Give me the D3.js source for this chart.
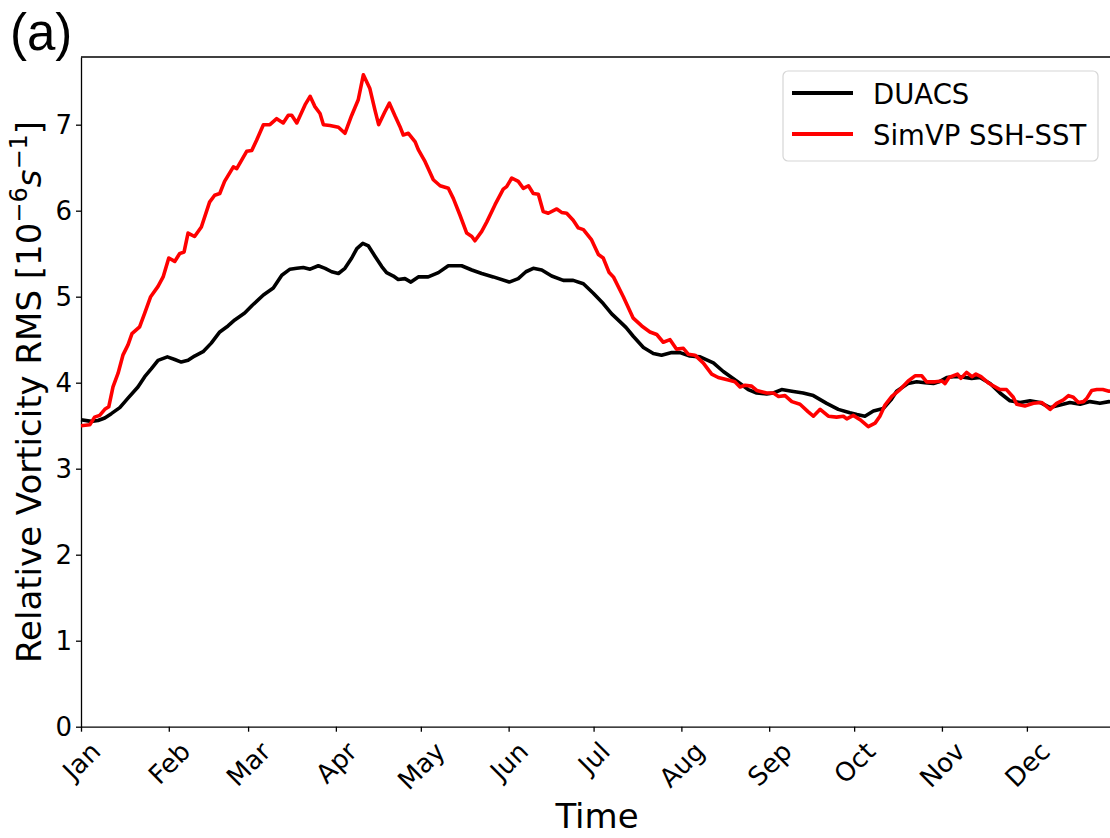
<!DOCTYPE html>
<html><head><meta charset="utf-8">
<script src="https://cdn.jsdelivr.net/npm/d3@7"></script>
<style>body{margin:0;background:#fff}svg{display:block}text{font-family:"DejaVu Sans",sans-serif;fill:#000}</style>
</head><body>
<svg id="c" width="1110" height="838"></svg>
<script>
const monthTickDays = [0,31,59,90,120,151,181,212,243,273,304,334];
const monthLabels = ["Jan","Feb","Mar","Apr","May","Jun","Jul","Aug","Sep","Oct","Nov","Dec"];
const yTicks = [0,1,2,3,4,5,6,7];
const seriesNames = ["DUACS","SimVP SSH-SST"];
const seriesColors = ["#000000","#ff0000"];

const duacsDays = [0,3.6,6,8.4,10.7,13.7,16.6,20.1,22.5,24.8,27.2,30.5,33.1,35.4,37.8,40.1,43.1,46,49,51.9,54.3,57.8,60.5,64.4,67.9,70.9,73.8,76.2,78.5,80.9,83.8,86.2,88.5,90.9,93.2,95.6,97.4,99.5,101.5,103.8,106.2,107.9,110.3,112,114.4,116.5,119.1,122.6,126.2,129.7,134.4,138,141.5,145.6,151.2,154.4,157.1,159.7,162.7,166.2,170.3,173.8,177.4,180.9,184.4,187.4,190.3,192.5,195,198.6,202.1,205,208.6,211.5,215,218.6,223.3,226.8,231.5,235.6,238.6,242.1,244.5,247.4,251,255,258.6,263.3,267.4,271.5,274,276.8,279.8,283.3,286,288,292,295.1,298,301,303,305.7,308,310.4,314.5,317.4,321,324.5,328,331.6,335.1,338.6,342.2,345.7,349.2,352.8,356.3,359.8,363,365];
const duacsVals = [3.57,3.55,3.56,3.59,3.64,3.71,3.82,3.95,4.07,4.16,4.26,4.30,4.27,4.24,4.26,4.31,4.36,4.46,4.59,4.66,4.73,4.81,4.90,5.02,5.10,5.25,5.32,5.33,5.34,5.32,5.36,5.33,5.29,5.27,5.33,5.45,5.56,5.62,5.59,5.47,5.35,5.28,5.24,5.20,5.21,5.17,5.23,5.23,5.28,5.36,5.36,5.31,5.27,5.23,5.17,5.21,5.29,5.33,5.31,5.24,5.19,5.19,5.15,5.04,4.92,4.80,4.71,4.64,4.54,4.41,4.34,4.32,4.35,4.35,4.31,4.30,4.23,4.13,4.02,3.92,3.88,3.87,3.88,3.92,3.90,3.88,3.85,3.76,3.69,3.65,3.63,3.61,3.67,3.70,3.80,3.90,3.99,4.01,4.00,3.99,4.01,4.06,4.07,4.07,4.05,4.06,3.99,3.88,3.79,3.77,3.79,3.77,3.71,3.74,3.77,3.75,3.78,3.76,3.78,3.77];

const simvpDays = [0,3.1,4.8,6.6,8.4,9.8,11.3,13.1,14.8,16.6,18,20.7,22.5,24.6,27.2,29,31,33.1,34.8,36.4,37.8,40.1,42.5,45.4,47.2,49,50.7,53.8,55,58.5,60.3,62,64.4,66.7,69.1,71.4,73.2,74.4,76.2,79.1,80.9,82.6,84.4,85.6,87.9,90.9,93.2,95.6,97.9,99.7,102,103.8,105.1,107.3,108.9,110.9,112.6,113.8,115.6,118,119.1,121.5,122.6,124.4,126.8,129.7,131.5,133.8,136.2,138,139.1,141.5,143.3,146.2,149.1,150.3,152.1,154.4,156.2,158,159.7,161.5,163.2,165,168,169.7,171.5,173.8,175.6,177.4,180.3,182.7,184.4,186.5,188,191.5,195,198,200.9,203.3,205.6,208,210.3,212.7,214.5,216.8,219.7,222.7,225,228.6,230.9,232.7,234.5,236.8,238.6,242.1,244.5,246.3,248.6,251,253.9,256.8,258.6,261,263.9,266.8,269.2,270.4,272.7,275.1,278,280.4,282.1,283.9,286.3,289.2,292.1,294.5,296.9,298.6,301.6,304,305.1,306.5,309.5,310.7,312.7,314.6,316,317.8,320.7,324.5,326.8,329.2,330.4,333.3,336.3,339.2,342.2,344.5,346.9,348.7,350.4,352.2,354,355.2,356.9,358.7,360.8,363,365];
const simvpVals = [3.50,3.51,3.60,3.62,3.69,3.72,3.95,4.11,4.32,4.44,4.57,4.65,4.81,5.00,5.12,5.23,5.45,5.41,5.50,5.52,5.74,5.70,5.81,6.10,6.18,6.20,6.34,6.51,6.49,6.69,6.70,6.82,7.00,7.00,7.07,7.02,7.11,7.11,7.02,7.23,7.33,7.21,7.13,7.00,6.99,6.97,6.90,7.11,7.29,7.58,7.42,7.17,7.00,7.15,7.25,7.10,6.98,6.88,6.90,6.80,6.71,6.57,6.49,6.36,6.29,6.26,6.14,5.95,5.74,5.70,5.65,5.76,5.87,6.07,6.25,6.28,6.38,6.34,6.26,6.29,6.20,6.19,5.99,5.97,6.02,5.98,5.97,5.89,5.80,5.78,5.66,5.49,5.45,5.28,5.23,5.00,4.75,4.66,4.59,4.56,4.47,4.50,4.39,4.40,4.33,4.32,4.23,4.10,4.06,4.03,4.01,3.95,3.97,3.96,3.91,3.88,3.88,3.84,3.85,3.78,3.75,3.66,3.61,3.69,3.61,3.60,3.61,3.58,3.62,3.57,3.49,3.53,3.61,3.74,3.84,3.92,4.02,4.08,4.08,4.01,4.01,4.02,3.99,4.06,4.10,4.05,4.12,4.07,4.10,4.07,3.99,3.92,3.92,3.83,3.75,3.73,3.76,3.77,3.69,3.76,3.80,3.85,3.83,3.77,3.78,3.82,3.91,3.92,3.92,3.90,3.91];

const svg = d3.select("#c");
const L = 81, B = 726.7, T = 57, R = 81 + 365*2.832;
const x = d3.scaleLinear().domain([0,365]).range([L,R]);
const y = d3.scaleLinear().domain([0,7.787]).range([B,T]);

// y axis
const ya = svg.append("g").attr("transform",`translate(${L},0)`)
  .call(d3.axisLeft(y).tickValues(yTicks).tickFormat(d3.format("d")).tickSize(5).tickPadding(4).tickSizeOuter(0));
ya.select(".domain").attr("stroke","#000").attr("stroke-width",1.3);
ya.selectAll(".tick line").attr("stroke","#000").attr("stroke-width",1.3);
ya.selectAll(".tick text").style("font-size","26px").style("font-family","DejaVu Sans");

// x axis
const xa = svg.append("g").attr("transform",`translate(0,${B})`)
  .call(d3.axisBottom(x).tickValues(monthTickDays).tickFormat((d,i)=>monthLabels[i]).tickSize(5).tickSizeOuter(0));
xa.select(".domain").attr("stroke","#000").attr("stroke-width",1.3);
xa.selectAll(".tick line").attr("stroke","#000").attr("stroke-width",1.3);
xa.selectAll(".tick text").each(function(){
  const t = d3.select(this);
  t.style("font-family","DejaVu Sans").style("font-size","26px").attr("text-anchor","middle")
   .attr("dy",null).attr("y",null).attr("dominant-baseline","central");
  const w = this.getComputedTextLength();
  const H = (w + 20) * Math.SQRT1_2;
  t.attr("transform",`translate(0,${13 + H/2}) rotate(-45)`);
});

// top spine
svg.append("line").attr("x1",L).attr("x2",R).attr("y1",T).attr("y2",T).attr("stroke","#000").attr("stroke-width",1.3);

// lines
const line = d3.line().x(d=>x(d[0])).y(d=>y(d[1]));
const duacs = duacsDays.map((d,i)=>[d,duacsVals[i]]);
const simvp = simvpDays.map((d,i)=>[d,simvpVals[i]]);
svg.append("path").datum(duacs).attr("d",line).attr("fill","none").attr("stroke",seriesColors[0]).attr("stroke-width",3.6).attr("stroke-linejoin","round");
svg.append("path").datum(simvp).attr("d",line).attr("fill","none").attr("stroke",seriesColors[1]).attr("stroke-width",3.6).attr("stroke-linejoin","round");

// legend
const lg = svg.append("g");
lg.append("rect").attr("x",783).attr("y",71).attr("width",315).attr("height",90).attr("rx",5)
  .attr("fill","#fff").attr("fill-opacity",0.8).attr("stroke","#d6d6d6").attr("stroke-width",1.2);
seriesNames.forEach((n,i)=>{
  const yy = [93,134][i];
  lg.append("line").attr("x1",792).attr("x2",853).attr("y1",yy).attr("y2",yy).attr("stroke",seriesColors[i]).attr("stroke-width",4.2);
  lg.append("text").attr("x",873).attr("y",yy+11).style("font-size","27.5px").text(n);
});

// axis labels
svg.append("text").attr("x",597).attr("y",828).attr("text-anchor","middle").style("font-size","34px").text("Time");
const yl = svg.append("text").attr("transform","translate(41,392) rotate(-90)").attr("text-anchor","middle").style("font-size","34px");
yl.append("tspan").text("Relative Vorticity RMS [10");
yl.append("tspan").attr("dy",-14).style("font-size","24px").text("\u22126");
yl.append("tspan").attr("dy",14).style("font-style","italic").text("s");
yl.append("tspan").attr("dy",-14).style("font-size","24px").text("\u22121");
yl.append("tspan").attr("dy",14).text("]");

// panel label
svg.append("text").attr("x",10).attr("y",50).style("font-family","'Liberation Sans',Arial,sans-serif").style("font-size","51px").text("(a)");
</script>
</body></html>
